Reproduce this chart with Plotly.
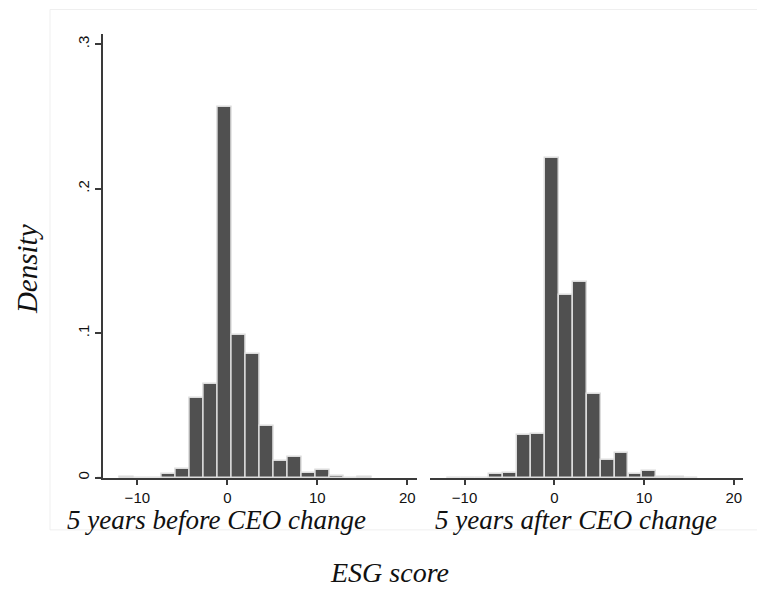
import plotly.graph_objects as go

# Bin centres of the ESG-score histogram (bin width ~1.555)
bin_centers = [-11.18, -9.62, -8.07, -6.51, -4.96, -3.40, -1.85, -0.29, 1.26,
               2.82, 4.37, 5.93, 7.48, 9.04, 10.59, 12.15, 13.70, 15.26]
bin_width = 1.555

density_before = [0.0004, 0.0, 0.0, 0.0026, 0.0064, 0.0554, 0.0650, 0.2563, 0.0989,
                  0.0857, 0.0359, 0.0117, 0.0147, 0.0034, 0.0051, 0.0009, 0.0002, 0.0003]
density_after = [0.0, 0.0, 0.0, 0.0023, 0.0034, 0.0294, 0.0303, 0.2216, 0.1264,
                 0.1354, 0.0582, 0.0126, 0.0170, 0.0025, 0.0044, 0.0005, 0.0005, 0.0]

x_ticks = [-10, 0, 10, 20]
y_ticks = [0, 0.1, 0.2, 0.3]
y_tick_labels = ["0", ".1", ".2", ".3"]

panel_titles = ["5 years before CEO change", "5 years after CEO change"]
x_title = "ESG score"
y_title = "Density"

W, H = 757, 589
def px(x):
    return x / W
def py(y):
    return 1 - y / H

bar_fill = "#505050"
bar_line = "#dcdcdc"
axis_col = "#3a3a3a"

fig = go.Figure()
fig.add_trace(go.Bar(x=bin_centers, y=density_before, width=bin_width,
                     marker=dict(color=bar_fill, line=dict(color=bar_line, width=1.5)),
                     xaxis="x", yaxis="y", showlegend=False, hoverinfo="skip"))
fig.add_trace(go.Bar(x=bin_centers, y=density_after, width=bin_width,
                     marker=dict(color=bar_fill, line=dict(color=bar_line, width=1.5)),
                     xaxis="x2", yaxis="y2", showlegend=False, hoverinfo="skip"))

xr = [-13.85, 21.05]
yr = [0, 0.3071]
ydom = [py(479.3), py(34)]
tickfont = dict(family="Liberation Sans, Arial, sans-serif", size=15, color="#111111")

common_x = dict(range=xr, tickvals=x_ticks, ticks="outside", ticklen=6, tickwidth=1.5,
                tickcolor=axis_col, showline=True, linecolor=axis_col, linewidth=1.5,
                showgrid=False, zeroline=False, tickfont=tickfont, fixedrange=True)

fig.update_layout(
    width=W, height=H,
    margin=dict(l=0, r=0, t=0, b=0),
    paper_bgcolor="white", plot_bgcolor="white",
    bargap=0,
    xaxis=dict(domain=[px(102.7), px(416.7)], anchor="y", **common_x),
    xaxis2=dict(domain=[px(430), px(743.3)], anchor="y2", **common_x),
    yaxis=dict(domain=ydom, range=yr, tickvals=y_ticks, ticktext=y_tick_labels,
               tickangle=-90, ticks="outside", ticklen=6, tickwidth=1.5,
               tickcolor=axis_col, showline=True, linecolor=axis_col, linewidth=1.5,
               showgrid=False, zeroline=False, tickfont=tickfont, anchor="x",
               fixedrange=True),
    yaxis2=dict(domain=ydom, range=yr, showline=False, showticklabels=False,
                ticks="", showgrid=False, zeroline=False, anchor="x2", fixedrange=True),
    font=dict(family="Liberation Serif, Times New Roman, serif", color="#111111"),
)

# faint outer region box
fig.add_shape(type="rect", xref="paper", yref="paper",
              x0=px(50), x1=1.02, y0=py(531.7), y1=py(9.5),
              line=dict(color="#efefef", width=1), fillcolor="rgba(0,0,0,0)", layer="below")
# small overhang of the left x-axis line
fig.add_shape(type="line", xref="paper", yref="paper",
              x0=px(96.7), x1=px(103), y0=py(479.3), y1=py(479.3),
              line=dict(color=axis_col, width=1.5))

serif = "Liberation Serif, Times New Roman, serif"
fig.add_annotation(text="<i>%s</i>" % panel_titles[0], x=px(216), y=py(522),
                   xref="paper", yref="paper", showarrow=False,
                   font=dict(family=serif, size=27, color="#111111"),
                   xanchor="center", yanchor="middle")
fig.add_annotation(text="<i>%s</i>" % panel_titles[1], x=px(576), y=py(522),
                   xref="paper", yref="paper", showarrow=False,
                   font=dict(family=serif, size=27, color="#111111"),
                   xanchor="center", yanchor="middle")
fig.add_annotation(text="<i>%s</i>" % x_title, x=px(389), y=py(574),
                   xref="paper", yref="paper", showarrow=False,
                   font=dict(family=serif, size=28, color="#111111"),
                   xanchor="center", yanchor="middle")
fig.add_annotation(text="<i>%s</i>" % y_title, x=px(27), y=py(270),
                   xref="paper", yref="paper", showarrow=False, textangle=-90,
                   font=dict(family=serif, size=29, color="#111111"),
                   xanchor="center", yanchor="middle")

fig.write_html("out.html", config={"displayModeBar": False},
               post_script="document.body.style.margin='0px';document.body.style.overflow='hidden';")
